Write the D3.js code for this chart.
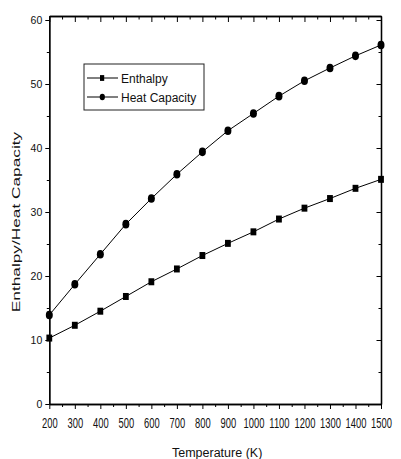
<!DOCTYPE html>
<html>
<head>
<meta charset="utf-8">
<script src="https://cdn.jsdelivr.net/npm/d3@7"></script>
<style>
  body { margin: 0; background: #fff; }
  svg { display: block; font-family: "Liberation Sans", Arial, sans-serif; }
</style>
</head>
<body>
<div id="chart"></div>
<script>
// data
const temperatures = [200, 300, 400, 500, 600, 700, 800, 900, 1000, 1100, 1200, 1300, 1400, 1500]
const enthalpy = [10.3, 12.3, 14.5, 16.8, 19.1, 21.1, 23.2, 25.1, 26.9, 28.9, 30.6, 32.1, 33.7, 35.1]
const heatCapacity = [13.9, 18.7, 23.4, 28.1, 32.1, 35.9, 39.4, 42.7, 45.4, 48.1, 50.5, 52.5, 54.4, 56.1]
const xTicks = [200, 300, 400, 500, 600, 700, 800, 900, 1000, 1100, 1200, 1300, 1400, 1500]
const xMinorTicks = [250, 350, 450, 550, 650, 750, 850, 950, 1050, 1150, 1250, 1350, 1450]
const yTicks = [0, 10, 20, 30, 40, 50, 60]
const yMinorTicks = [5, 15, 25, 35, 45, 55]
const seriesNames = ['Enthalpy', 'Heat Capacity']

const WIDTH = 401
const HEIGHT = 459
const MARGIN = { top: 16, bottom: 55, left: 49.3, right: 20 }

const x = d3.scaleLinear()
  .domain([200, 1500])
  .range([MARGIN.left, WIDTH - MARGIN.right])
const y = d3.scaleLinear()
  .domain([0, 60.625])
  .range([HEIGHT - MARGIN.bottom, MARGIN.top])

const svg = d3.select('#chart').append('svg')
  .attr('width', WIDTH)
  .attr('height', HEIGHT)

// axes: outward ticks left/bottom, inward ticks top/right
const addAxis = (axis, transform) => {
  const g = svg.append('g')
    .attr('transform', transform)
    .call(axis)
  g.select('.domain').attr('stroke', '#000').attr('stroke-width', 1.3)
  g.selectAll('.tick line').attr('stroke', '#000').attr('stroke-width', 1)
  return g
}
const bottomY = HEIGHT - MARGIN.bottom
const rightX = WIDTH - MARGIN.right

const bottomAxis = addAxis(d3.axisBottom(x).tickValues(xTicks).tickFormat(d3.format('d'))
  .tickSize(5).tickSizeOuter(0), `translate(0,${bottomY})`)
bottomAxis.selectAll('.tick text')
  .attr('y', 24).attr('dy', 0)
  .attr('font-size', 14)
  .attr('fill', '#111')
  .attr('transform', 'scale(0.67,1)')
addAxis(d3.axisBottom(x).tickValues(xMinorTicks).tickSize(3).tickFormat('').tickSizeOuter(0),
  `translate(0,${bottomY})`)

addAxis(d3.axisTop(x).tickValues(xTicks).tickSize(-6).tickFormat('').tickSizeOuter(0),
  `translate(0,${MARGIN.top})`)
addAxis(d3.axisTop(x).tickValues(xMinorTicks).tickSize(-3.5).tickFormat('').tickSizeOuter(0),
  `translate(0,${MARGIN.top})`)

const leftAxis = addAxis(d3.axisLeft(y).tickValues(yTicks).tickSize(4).tickPadding(3).tickSizeOuter(0),
  `translate(${MARGIN.left},0)`)
leftAxis.selectAll('.tick text')
  .attr('font-size', 10.5)
  .attr('fill', '#111')
addAxis(d3.axisLeft(y).tickValues(yMinorTicks).tickSize(2.5).tickFormat('').tickSizeOuter(0),
  `translate(${MARGIN.left},0)`)

addAxis(d3.axisRight(y).tickValues(yTicks).tickSize(-4.5).tickFormat('').tickSizeOuter(0),
  `translate(${rightX},0)`)
addAxis(d3.axisRight(y).tickValues(yMinorTicks).tickSize(-2.5).tickFormat('').tickSizeOuter(0),
  `translate(${rightX},0)`)

// axis titles
svg.append('text')
  .attr('x', (MARGIN.left + rightX) / 2 + 2)
  .attr('y', 457)
  .attr('text-anchor', 'middle')
  .attr('font-size', 12.5)
  .attr('fill', '#111')
  .text('Temperature (K)')

svg.append('text')
  .attr('transform', `translate(20,${(y(0) + y(60)) / 2 + 10}) rotate(-90) scale(1.6,1)`)
  .attr('text-anchor', 'middle')
  .attr('font-size', 10.8)
  .attr('fill', '#111')
  .text('Enthalpy/Heat Capacity')

// series
const rows = temperatures.map((t, i) => ({ t, h: enthalpy[i], c: heatCapacity[i] }))
const line = key => d3.line().x(d => x(d.t)).y(d => y(d[key]))

svg.append('path')
  .datum(rows)
  .attr('fill', 'none')
  .attr('stroke', '#000')
  .attr('stroke-width', 1)
  .attr('d', line('h'))
svg.append('path')
  .datum(rows)
  .attr('fill', 'none')
  .attr('stroke', '#000')
  .attr('stroke-width', 1)
  .attr('d', line('c'))

svg.append('g').selectAll('rect')
  .data(rows)
  .enter()
  .append('rect')
  .attr('x', d => x(d.t) - 2.9)
  .attr('y', d => y(d.h) - 3.5)
  .attr('width', 5.8)
  .attr('height', 7)
  .attr('fill', '#000')

svg.append('g').selectAll('ellipse')
  .data(rows)
  .enter()
  .append('ellipse')
  .attr('cx', d => x(d.t))
  .attr('cy', d => y(d.c))
  .attr('rx', 3.5)
  .attr('ry', 4.3)
  .attr('fill', '#000')

// legend
const legend = svg.append('g').attr('transform', 'translate(84,64)')
legend.append('rect')
  .attr('width', 120)
  .attr('height', 46)
  .attr('fill', '#fff')
  .attr('stroke', '#222')
  .attr('stroke-width', 1)

const items = legend.selectAll('.item')
  .data(seriesNames)
  .enter()
  .append('g')
  .attr('class', 'item')
  .attr('transform', (d, i) => `translate(0,${14 + i * 19})`)

items.append('line')
  .attr('x1', 3).attr('x2', 34)
  .attr('stroke', '#000')
  .attr('stroke-width', 1)
items.filter((d, i) => i === 0).append('rect')
  .attr('x', 16).attr('y', -2.9)
  .attr('width', 4.2).attr('height', 5.8)
  .attr('fill', '#000')
items.filter((d, i) => i === 1).append('ellipse')
  .attr('cx', 18.3)
  .attr('rx', 2.6).attr('ry', 3.2)
  .attr('fill', '#000')
items.append('text')
  .attr('x', 37)
  .attr('y', 4.5)
  .attr('font-size', 12)
  .attr('fill', '#111')
  .text(d => d)
</script>
</body>
</html>
